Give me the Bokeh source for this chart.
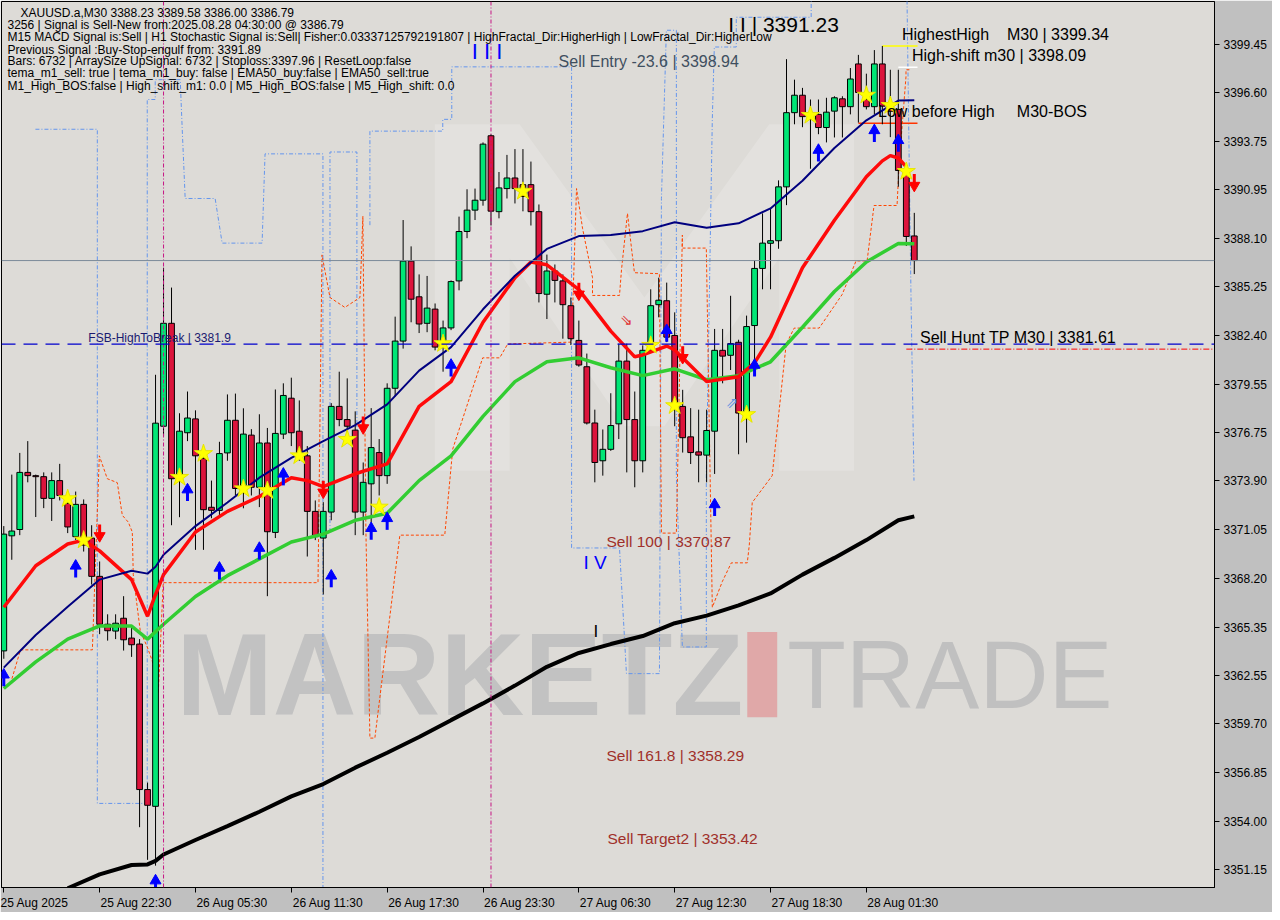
from bokeh.plotting import figure
from bokeh.models import (ColumnDataSource, Range1d, FixedTicker, PrintfTickFormatter,
                          Label, Span, BoxAnnotation, PolyAnnotation)
from bokeh.core.properties import value
from bokeh.embed import file_html
from bokeh.resources import INLINE

# ---------------- data ----------------
opens = [3363.96, 3370.69, 3371.06, 3374.40, 3374.21, 3374.15, 3372.88, 3373.92, 3372.59, 3370.64,
         3372.53, 3370.56, 3368.32, 3365.52, 3365.12, 3365.87, 3364.71, 3364.36, 3355.85, 3354.87,
         3377.10, 3383.12, 3374.21, 3376.72, 3377.53, 3375.21, 3372.36, 3372.18, 3375.54, 3377.45,
         3373.63, 3376.58, 3373.53, 3376.12, 3370.89, 3376.64, 3378.74, 3376.81, 3375.37, 3372.12,
         3370.56, 3372.08, 3378.26, 3377.49, 3376.87, 3372.08, 3373.73, 3375.56, 3374.21, 3379.32,
         3382.08, 3386.76, 3384.67, 3383.12, 3383.95, 3381.73, 3382.85, 3385.60, 3388.49, 3389.74,
         3390.32, 3394.09, 3389.65, 3391.00, 3391.62, 3391.23, 3391.23, 3389.65, 3384.82, 3386.18,
         3385.60, 3384.15, 3382.12, 3380.58, 3377.29, 3375.08, 3375.75, 3377.24, 3380.91, 3377.49,
         3375.08, 3381.54, 3384.21, 3384.44, 3382.41, 3378.26, 3376.48, 3375.60, 3375.41, 3376.81,
         3381.54, 3381.25, 3382.01, 3377.87, 3382.99, 3386.33, 3387.80, 3387.95, 3391.10, 3395.44,
         3396.46, 3395.40, 3395.34, 3394.57, 3395.53, 3396.25, 3395.79, 3398.29, 3396.21, 3395.79,
         3398.29, 3395.92, 3395.63, 3392.06, 3388.23]
highs = [3371.26, 3374.27, 3375.54, 3376.23, 3374.27, 3374.40, 3374.40, 3374.90, 3373.24, 3373.28,
         3372.82, 3371.31, 3369.19, 3366.10, 3366.10, 3367.16, 3365.35, 3364.65, 3356.26, 3380.11,
         3386.37, 3385.21, 3377.86, 3379.13, 3378.03, 3375.94, 3373.92, 3376.19, 3378.96, 3379.01,
         3378.15, 3376.93, 3377.80, 3377.00, 3379.25, 3379.61, 3379.94, 3378.61, 3375.94, 3372.76,
         3372.66, 3378.45, 3380.29, 3379.90, 3377.97, 3374.98, 3378.16, 3376.35, 3379.61, 3383.51,
         3389.16, 3387.62, 3385.98, 3385.89, 3384.28, 3383.28, 3385.63, 3389.36, 3390.96, 3391.00,
         3393.70, 3394.18, 3391.97, 3392.97, 3393.31, 3393.31, 3392.58, 3390.07, 3387.14, 3386.56,
         3385.98, 3384.63, 3383.28, 3381.35, 3378.07, 3376.91, 3379.03, 3381.93, 3381.93, 3379.13,
         3381.83, 3385.11, 3385.79, 3385.50, 3383.76, 3379.23, 3378.16, 3378.07, 3378.07, 3382.79,
         3382.79, 3384.73, 3382.16, 3383.57, 3386.79, 3389.55, 3389.84, 3391.48, 3398.57, 3397.37,
         3396.89, 3396.21, 3396.21, 3396.31, 3396.40, 3396.40, 3398.05, 3398.82, 3397.72, 3399.10,
         3399.34, 3397.95, 3397.95, 3392.35, 3389.58]
lows = [3363.50, 3369.29, 3370.73, 3373.82, 3371.79, 3372.31, 3371.56, 3372.76, 3370.85, 3370.44,
        3369.77, 3367.84, 3364.94, 3364.56, 3364.65, 3363.98, 3363.61, 3353.65, 3351.74, 3351.40,
        3376.52, 3371.31, 3371.78, 3376.23, 3369.87, 3369.87, 3371.72, 3371.89, 3375.08, 3373.05,
        3372.30, 3373.05, 3372.37, 3367.16, 3370.56, 3376.35, 3375.94, 3375.08, 3369.48, 3370.44,
        3367.26, 3371.60, 3377.10, 3376.52, 3370.73, 3370.73, 3370.73, 3373.05, 3373.73, 3378.84,
        3381.64, 3383.18, 3382.55, 3382.60, 3381.54, 3380.29, 3382.72, 3385.05, 3388.10, 3389.16,
        3390.00, 3388.84, 3389.26, 3390.42, 3390.13, 3389.67, 3388.84, 3384.34, 3383.37, 3384.34,
        3382.22, 3381.85, 3380.58, 3377.20, 3373.82, 3374.21, 3375.66, 3376.35, 3374.40, 3373.53,
        3374.40, 3381.45, 3383.47, 3382.02, 3377.10, 3375.56, 3374.89, 3373.82, 3373.82, 3374.31,
        3379.61, 3380.39, 3375.46, 3376.14, 3380.10, 3385.11, 3385.11, 3387.48, 3390.03, 3394.76,
        3394.59, 3392.16, 3394.18, 3393.70, 3393.99, 3393.99, 3395.34, 3394.86, 3395.63, 3395.34,
        3394.76, 3394.01, 3391.11, 3387.64, 3386.00]
closes = [3370.79, 3370.97, 3374.40, 3374.21, 3374.15, 3372.88, 3373.92, 3373.05, 3371.21, 3372.53,
          3370.15, 3368.32, 3365.52, 3365.14, 3365.58, 3364.61, 3364.32, 3355.85, 3354.93, 3377.28,
          3383.12, 3374.03, 3376.81, 3377.58, 3375.37, 3372.22, 3372.18, 3375.50, 3377.45, 3373.46,
          3376.64, 3373.53, 3376.12, 3370.93, 3376.68, 3378.90, 3376.72, 3375.37, 3372.12, 3370.64,
          3372.12, 3378.26, 3377.49, 3377.10, 3372.08, 3373.82, 3375.85, 3374.21, 3379.32, 3382.08,
          3386.76, 3384.53, 3383.08, 3384.01, 3381.73, 3382.85, 3385.56, 3388.49, 3389.74, 3390.32,
          3393.60, 3389.68, 3391.04, 3391.62, 3391.00, 3390.54, 3389.65, 3384.86, 3386.18, 3385.63,
          3384.21, 3382.22, 3380.68, 3377.29, 3374.98, 3375.75, 3377.14, 3380.91, 3377.49, 3375.08,
          3381.54, 3384.15, 3384.47, 3382.31, 3378.36, 3376.43, 3375.56, 3375.41, 3376.85, 3381.54,
          3381.20, 3381.93, 3377.87, 3382.93, 3386.33, 3387.81, 3387.95, 3391.10, 3395.44, 3396.46,
          3395.21, 3395.05, 3394.57, 3395.47, 3396.31, 3395.79, 3397.41, 3396.62, 3395.79, 3398.29,
          3395.82, 3395.52, 3392.06, 3388.20, 3386.79]

# moving averages (bar index, price)
ma_black_x = [8, 12, 16, 18, 19, 20, 24, 28, 32, 36, 40, 44, 48, 52, 56, 60, 64, 68, 72, 76,
              80, 84, 88, 92, 96, 100, 104, 108, 112, 114]
ma_black_y = [3350.08, 3350.89, 3351.44, 3351.47, 3351.68, 3352.05, 3352.90, 3353.71, 3354.55,
              3355.45, 3356.17, 3357.13, 3358.00, 3358.92, 3359.91, 3360.89, 3361.93, 3363.03,
              3363.84, 3364.36, 3364.83, 3365.58, 3366.02, 3366.62, 3367.32, 3368.42, 3369.40,
              3370.44, 3371.60, 3371.83]
ma_navy_x = [0, 4, 8, 12, 16, 18, 19, 20, 24, 28, 32, 36, 40, 44, 48, 52, 56, 60, 64, 68, 72,
             76, 80, 84, 88, 92, 96, 100, 104, 108, 112, 114]
ma_navy_y = [3362.98, 3364.89, 3366.54, 3368.13, 3368.65, 3368.48, 3368.88, 3369.58, 3371.26,
             3372.64, 3374.09, 3375.25, 3376.23, 3377.16, 3378.38, 3380.35, 3381.73, 3383.94,
             3385.90, 3387.47, 3388.22, 3388.28, 3388.51, 3389.03, 3388.71, 3388.97, 3389.84,
             3391.46, 3393.37, 3394.99, 3396.15, 3396.17]
ma_red_x = [0, 4, 8, 10, 12, 16, 18, 19, 20, 24, 28, 32, 36, 38, 40, 44, 48, 52, 56, 60, 64, 66,
            68, 72, 76, 79, 80, 83, 84, 88, 92, 94, 96, 100, 104, 108, 110, 111, 112, 113]
ma_red_y = [3366.51, 3368.94, 3370.21, 3370.44, 3369.81, 3368.13, 3365.99, 3367.26, 3368.42,
            3370.91, 3372.12, 3372.99, 3374.09, 3373.92, 3373.57, 3374.32, 3374.90, 3378.26,
            3379.71, 3383.18, 3385.79, 3386.71, 3386.54, 3385.09, 3382.66, 3381.16, 3381.27,
            3381.79, 3381.56, 3379.71, 3380.00, 3380.81, 3382.31, 3386.37, 3389.15, 3391.69,
            3392.62, 3392.93, 3392.79, 3392.27]
ma_green_x = [0, 4, 8, 12, 16, 18, 20, 24, 28, 32, 36, 40, 44, 48, 52, 56, 60, 64, 68, 72, 76,
              80, 84, 88, 92, 96, 100, 104, 108, 112, 114]
ma_green_y = [3361.76, 3363.32, 3364.65, 3365.42, 3365.41, 3364.65, 3365.52, 3367.14, 3368.36,
              3369.34, 3370.33, 3370.79, 3371.60, 3372.01, 3373.92, 3375.37, 3377.68, 3379.71,
              3380.87, 3381.10, 3380.52, 3380.06, 3380.46, 3379.82, 3380.06, 3380.87, 3382.89,
              3384.98, 3386.71, 3387.79, 3387.78]

# trailing step bands (bar index, price); NaN separates pieces
nan = float("nan")
band_orange_x = [0.84, 2.09, 11.09, 11.96, 12.96, 14.21, 14.84, 15.59, 16.09, 16.21, 16.71, 17.09,
                 17.96, 18.59, 19.34, 19.96, 38.96, 39.34, 39.84, 40.84, 42.71, 44.59, 44.96,
                 45.34, 45.84, 46.46, 49.59, 55.21, 56.21, 57.96, 59.96, 62.09, 63.09, 71.09,
                 71.71, 72.46, 73.71, 73.71, 77.09, 77.34, 78.09, 78.59, 78.96, 82.09, 82.34,
                 84.21, 84.96, 84.96, 87.96, 88.71, 89.96, 91.09, 93.09, 93.34, 93.71, 96.21,
                 97.96, 98.96, 102.09, 104.96, 106.71, 108.09, 108.96, 111.84, 112.09, 112.96,
                 112.96, 113.59]
band_orange_y = [3362.05, 3364.02, 3364.02, 3375.37, 3374.03, 3373.80, 3371.89, 3371.49, 3370.91,
                 3368.42, 3366.51, 3365.12, 3364.19, 3363.38, 3361.47, 3367.95, 3367.95, 3367.95,
                 3387.12, 3384.63, 3384.05, 3384.63, 3389.38, 3370.91, 3358.86, 3358.86, 3370.73,
                 3370.73, 3375.77, 3378.26, 3381.10, 3381.10, 3381.91, 3382.02, 3391.00, 3388.68,
                 3385.79, 3384.75, 3384.75, 3386.25, 3389.55, 3387.52, 3386.08, 3386.02, 3370.85,
                 3370.85, 3388.28, 3387.52, 3387.52, 3366.51, 3368.01, 3369.11, 3369.11, 3370.15,
                 3372.64, 3374.21, 3381.91, 3382.84, 3382.84, 3384.80, 3386.77, 3386.77, 3390.01,
                 3390.01, 3392.33, 3397.54, 3397.95, 3397.95]
band_blue_x = [3.96, 11.71, 11.71, 17.96, 17.96, 18.96, 18.96, 22.09, 22.34, 22.71, 26.46, 27.34,
               32.34, 32.71, 39.96, 39.96, nan,
               40.84, 40.84, 44.21, 44.21, nan,
               45.84, 45.84, 54.96, 54.96, 56.09, 56.09, 71.09, 71.09, 77.09, 77.96, 82.09, 82.34,
               82.96, 84.21, 84.21, 84.96, 87.96, 87.96, 88.71, 88.96, 91.71, 91.71, 101.09,
               101.09, nan,
               113.09, 113.59, 113.96]
band_blue_y = [3394.47, 3394.47, 3355.04, 3355.04, 3396.21, 3396.21, 3397.37, 3397.37, 3394.47,
               3390.42, 3390.42, 3387.81, 3387.81, 3393.03, 3393.03, 3350.12, nan,
               3370.91, 3393.14, 3393.14, 3375.77, nan,
               3388.86, 3394.36, 3394.36, 3395.05, 3395.05, 3398.12, 3398.12, 3369.98, 3369.98,
               3362.63, 3362.63, 3390.42, 3400.26, 3400.26, 3374.21, 3364.19, 3364.19, 3374.21,
               3395.05, 3399.28, 3399.28, 3401.02, 3401.02, 3402.00, nan,
               3402.00, 3384.63, 3373.92]

# signal markers (bar index, price)
star_x = [8, 10, 22, 25, 30, 33, 37, 43, 47, 55, 65, 81, 84, 93, 101, 108, 111, 113]
star_y = [3372.86, 3370.44, 3374.11, 3375.50, 3373.44, 3373.34, 3375.37, 3376.33, 3372.37,
          3381.93, 3390.84, 3381.83, 3378.30, 3377.78, 3395.28, 3396.46, 3395.86, 3392.00]
up_x = [0, 9, 19, 23, 27, 32, 35, 41, 46, 48, 56, 83, 89, 94, 102, 109, 112]
up_y = [3362.34, 3368.71, 3350.30, 3373.17, 3368.59, 3369.75, 3374.09, 3368.13, 3370.91,
        3371.49, 3380.46, 3382.49, 3372.30, 3380.46, 3393.03, 3394.18, 3393.60]
dn_x = [12, 40, 45, 72, 85, 114]
dn_y = [3370.91, 3373.46, 3377.22, 3385.04, 3381.33, 3391.40]
hollow_dn_x, hollow_dn_y = [77.96], [3383.30]
hollow_up_x, hollow_up_y = [91.2], [3378.43]

# levels
fsb_level = 3381.90
sell_hunt_tp = 3381.61
highest_high = 3399.34
high_shift = 3398.09
low_before_high = 3394.82
last_price = 3386.79
sep_bars = [20, 61]

ytick_vals = [3351.15, 3354.00, 3356.85, 3359.70, 3362.55, 3365.35, 3368.20, 3371.05, 3373.90,
              3376.75, 3379.55, 3382.40, 3385.25, 3388.10, 3390.95, 3393.75, 3396.60, 3399.45]
xtick_bars = [0, 12, 24, 36, 48, 60, 72, 84, 96, 108]
xtick_labels = ["25 Aug 2025", "25 Aug 22:30", "26 Aug 05:30", "26 Aug 11:30", "26 Aug 17:30",
                "26 Aug 23:30", "27 Aug 06:30", "27 Aug 12:30", "27 Aug 18:30", "28 Aug 01:30"]

header_lines = [
    "XAUUSD.a,M30  3388.23 3389.58 3386.00 3386.79",
    "3256 | Signal is Sell-New from:2025.08.28 04:30:00 @ 3386.79",
    "M15 MACD Signal is:Sell | H1 Stochastic Signal is:Sell| Fisher:0.03337125792191807 | HighFractal_Dir:HigherHigh | LowFractal_Dir:HigherLow",
    "Previous Signal :Buy-Stop-engulf from: 3391.89",
    "Bars: 6732 | ArraySize UpSignal: 6732 | Stoploss:3397.96 | ResetLoop:false",
    "tema_m1_sell: true | tema_m1_buy: false | EMA50_buy:false | EMA50_sell:true",
    "M1_High_BOS:false | High_shift_m1: 0.0 | M5_High_BOS:false | M5_High_shift: 0.0",
]

# ------------- helpers: reference pixel -> data (annotation placement only) -------------
def X(px):
    return (px - 3.3) / 8.0


def Y(py):
    return 3402.0 - 0.0579 * py


X0, X1 = X(1), X(1216)
Y0, Y1 = Y(896), Y(1)

p = figure(width=1272, height=912, output_backend="svg", toolbar_location=None, tools="",
           x_range=Range1d(X0, X1), y_range=Range1d(Y0, Y1), y_axis_location="right",
           min_border_left=1, min_border_top=1, min_border_right=58, min_border_bottom=24)
p.background_fill_color = "#dddbd7"
p.border_fill_color = "#c0c0c0"
p.outline_line_color = "black"
p.outline_line_width = 1
p.grid.visible = False

yax = p.yaxis[0]
yax.ticker = FixedTicker(ticks=ytick_vals)
yax.formatter = PrintfTickFormatter(format="%.2f")
yax.major_label_text_font = "Liberation Sans"
yax.major_label_text_font_size = "12px"
yax.major_label_text_color = "black"
yax.major_tick_out = 5
yax.major_tick_in = 0
yax.minor_tick_line_color = None
yax.axis_line_color = "black"
yax.major_label_standoff = 4

xax = p.xaxis[0]
xax.ticker = FixedTicker(ticks=xtick_bars)
nb = "\u00a0" * 22
xax.major_label_overrides = {b: (lab if b == 0 else nb + lab)
                             for b, lab in zip(xtick_bars, xtick_labels)}
xax.major_label_text_font = "Liberation Sans"
xax.major_label_text_font_size = "12px"
xax.major_label_text_color = "black"
xax.major_tick_out = 5
xax.major_tick_in = 0
xax.minor_tick_line_color = None
xax.axis_line_color = "black"
xax.major_label_standoff = 3

# ------------- watermark -------------
p.add_layout(PolyAnnotation(
    xs=[X(435), X(520), X(645), X(770), X(855), X(855), X(780), X(780), X(665), X(625),
        X(510), X(510), X(435)],
    ys=[Y(125), Y(125), Y(300), Y(125), Y(125), Y(475), Y(475), Y(260), Y(430), Y(430),
        Y(260), Y(475), Y(475)],
    fill_color="#ffffff", fill_alpha=0.18, line_color=None, level="underlay"))
p.add_layout(Label(x=X(176), y=Y(681), text="MARKETZ", text_font="Liberation Sans",
                   text_font_style="bold", text_font_size="116px", text_color="#c2c2c2",
                   text_baseline="middle", level="underlay"))
p.add_layout(BoxAnnotation(left=X(748), right=X(778), bottom=Y(724), top=Y(638),
                           fill_color="#e0a8a8", fill_alpha=1, line_color=None, level="underlay"))
p.add_layout(Label(x=X(788), y=Y(681), text="TRADE", text_font="Liberation Sans",
                   text_font_size="96px", text_color="#c0c0c0",
                   text_baseline="middle", level="underlay"))

# ------------- separators & levels -------------
for b in sep_bars:
    p.add_layout(Span(location=b, dimension="height", line_color="#c71585",
                      line_dash="4 2 1 2", line_width=1))
p.add_layout(Span(location=last_price, dimension="width", line_color="#7b8a99", line_width=1))

# step bands
p.line(band_blue_x, band_blue_y, line_color="#6495ed", line_dash="4 2 1 2", line_width=1)
p.line(band_orange_x, band_orange_y, line_color="#ff4500", line_dash="3 2", line_width=1)

p.add_layout(Span(location=fsb_level, dimension="width", line_color="#0000cd",
                  line_dash="14 8", line_width=1.3))
p.line([113, X1], [sell_hunt_tp, sell_hunt_tp], line_color="#ff0000", line_dash="6 2 1 2",
       line_width=1)
p.line([110, 114.4], [highest_high, highest_high], line_color="#ffff00", line_width=1.5)
p.line([112, 114.4], [high_shift, high_shift], line_color="#ffffff", line_width=1.5)
p.line([107, 114.4], [low_before_high, low_before_high], line_color="#ff3300", line_width=1.5)

# ------------- candles -------------
n = len(opens)
cols = ["#00e676" if c >= o else "#dc143c" for o, c in zip(opens, closes)]
src = ColumnDataSource(dict(
    x=list(range(n)), h=highs, l=lows,
    top=[max(o, c) for o, c in zip(opens, closes)],
    bot=[min(o, c) if abs(o - c) > 0.04 else min(o, c) - 0.03 for o, c in zip(opens, closes)],
    col=cols))
p.segment(x0="x", y0="h", x1="x", y1="l", source=src, line_color="black", line_width=1)
p.vbar(x="x", width=0.72, top="top", bottom="bot", source=src, fill_color="col",
       line_color="black", line_width=1)

# ------------- moving averages -------------
p.line(ma_black_x, ma_black_y, line_color="black", line_width=4)
p.line(ma_green_x, ma_green_y, line_color="#32cd32", line_width=3.5)
p.line(ma_red_x, ma_red_y, line_color="#ff0a0a", line_width=3.5)
p.line(ma_navy_x, ma_navy_y, line_color="#00007f", line_width=2)

# ------------- markers -------------
p.scatter(star_x, star_y, marker="star", size=19, fill_color="#ffff00", line_color="#e6e600")
p.segment(x0=up_x, y0=[v - 0.45 for v in up_y], x1=up_x, y1=[v + 0.15 for v in up_y],
          line_color="#0000ff", line_width=3)
p.scatter(up_x, [v + 0.22 for v in up_y], marker="triangle", size=11, fill_color="#0000ff",
          line_color="#0000ff")
p.segment(x0=dn_x, y0=[v + 0.45 for v in dn_y], x1=dn_x, y1=[v - 0.15 for v in dn_y],
          line_color="#ff0000", line_width=3)
p.scatter(dn_x, [v - 0.22 for v in dn_y], marker="inverted_triangle", size=11,
          fill_color="#ff0000", line_color="#ff0000")
p.text(hollow_dn_x, hollow_dn_y, text=["\u21d8"], text_font=value("DejaVu Sans"),
       text_font_size="15px", text_color="#e03030", text_align="center",
       text_baseline="middle")
p.text(hollow_up_x, hollow_up_y, text=["\u21d7"], text_font=value("DejaVu Sans"),
       text_font_size="15px", text_color="#5f8fe0", text_align="center",
       text_baseline="middle")

# ------------- texts -------------
hy = [13, 25, 37, 49.5, 61.5, 73.5, 86]
for i, (t, yy) in enumerate(zip(header_lines, hy)):
    p.add_layout(Label(x=X(20 if i == 0 else 7), y=Y(yy), text=t, text_font="Liberation Sans",
                       text_font_size="12px", text_color="black", text_baseline="middle"))


def lab(px, py, t, size, color="black", font="Liberation Sans"):
    p.add_layout(Label(x=X(px), y=Y(py), text=t, text_font=font, text_font_size=size,
                       text_color=color, text_baseline="middle"))


sp = "\u00a0"
lab(472, 52, "I I I", "22px", "#0000ff")
lab(729, 24, "I I | 3391.23", "21px")
lab(559, 62, "Sell Entry -23.6 | 3398.94", "16px", "#3f4f60")
lab(903, 34, "HighestHigh" + sp * 4 + "M30 | 3399.34", "16px")
lab(913, 56, "High-shift m30 | 3398.09", "16px")
lab(879, 112, "Low before High" + sp * 5 + "M30-BOS", "16px")
lab(921, 340, "Sell Hunt TP M30 | 3381.61", "16px")
lab(88, 341, "FSB-HighToBreak | 3381.9", "12px", "#1a1a70")
lab(607, 546, "Sell 100 | 3370.87", "15.5px", "#a0302a")
lab(584, 568, "I V", "19px", "#0000ff")
lab(594, 637, "I", "17px")
lab(607, 763, "Sell 161.8 | 3358.29", "15.5px", "#a0302a")
lab(608, 847, "Sell Target2 | 3353.42", "15.5px", "#a0302a")

open("out.html", "w").write(file_html(p, INLINE))
